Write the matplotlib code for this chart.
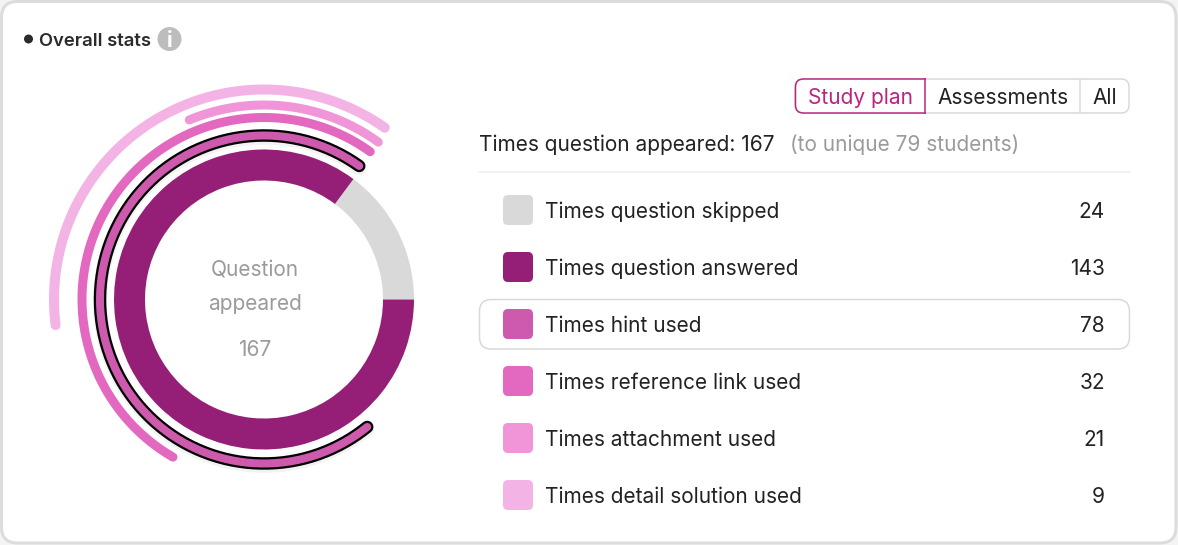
import matplotlib
matplotlib.use("Agg")
import matplotlib.pyplot as plt
import matplotlib.patheffects as pe
from matplotlib.patches import FancyBboxPatch, Circle, Rectangle
import numpy as np

W, H = 1178, 545

labels = ["Times question skipped", "Times question answered", "Times hint used",
          "Times reference link used", "Times attachment used", "Times detail solution used"]
values = [24, 143, 78, 32, 21, 9]
colors = ["#d9d9d9", "#951f76", "#cd5aad", "#e368c0", "#ef95d8", "#f3b4e5"]
row_y = [210, 267, 324, 381, 438, 495]

donut_sweep = [53.4, 306.6]

# arcs around the donut, degrees
arc_names = ["hint", "reference", "attachment", "detail"]
arc_start = [54.5, 54.3, 54, 54.9]
arc_end = [309, 240, 112.6, 187]
arc_radius = [164, 182, 194.5, 210]
arc_width = [8, 9, 9, 10]

FONT = "Inter"
plt.rcParams["font.family"] = FONT
TXT = 15

def yy(py):
    return H - py

def px(n):
    return n * 72 / 100

def rbox(ax, x0, y0, x1, y1, r, fc, ec, lw, z=1):
    p = FancyBboxPatch((x0 + r, yy(y1) + r), x1 - x0 - 2 * r, y1 - y0 - 2 * r,
                       boxstyle="round,pad=%f,rounding_size=%f" % (r, r),
                       fc=fc, ec=ec, lw=px(lw), zorder=z)
    ax.add_patch(p)
    return p

fig = plt.figure(figsize=(W / 100, H / 100), dpi=100, facecolor="#f4f4f4")
ax = fig.add_axes([0, 0, 1, 1])

# card
rbox(ax, 1.5, 1.5, 1176, 543, 16, "white", "#dcdcdc", 3, z=0)

# heading
ax.add_patch(Circle((28.5, yy(39)), 4.5, fc="#2b2b2b", ec="none"))
ax.text(39, yy(39), "Overall stats", fontsize=13.3, fontweight="semibold", color="#2b2b2b",
        va="center_baseline", ha="left")
ax.add_patch(Circle((169.5, yy(39)), 12, fc="#bdbdbd", ec="none"))
ax.text(169.5, yy(39), "i", fontsize=15, fontweight="bold", color="white", va="center_baseline", ha="center")

# donut
cx, cy = 264, yy(299.5)
ax.pie(donut_sweep, colors=colors[:2], startangle=0, counterclock=True, radius=150, center=(cx, cy),
       wedgeprops=dict(width=31, linewidth=0))

# arcs, outermost first
for name, a0, a1, r, w, c in reversed(list(zip(arc_names, arc_start, arc_end, arc_radius, arc_width, colors[2:]))):
    t = np.radians(np.linspace(a0, a1, 300))
    line, = ax.plot(cx + r * np.cos(t), cy + r * np.sin(t), color=c, lw=px(w), solid_capstyle="round", zorder=3)
    if name == "hint":
        line.set_path_effects([
            pe.Stroke(linewidth=px(w + 6.5), foreground="#0000000c", offset=(0, -1.5)),
            pe.Stroke(linewidth=px(w + 4.5), foreground="black"),
            pe.Normal()])

# centre text
ax.text(255, yy(269), "Question", fontsize=TXT, color="#9b9b9b", ha="center", va="center_baseline")
ax.text(255, yy(302), "appeared", fontsize=TXT, color="#9b9b9b", ha="center", va="center_baseline")
ax.text(255, yy(348), "167", fontsize=TXT, color="#9b9b9b", ha="center", va="center_baseline")

# toggle buttons
rbox(ax, 795, 79, 1129, 113, 8, "white", "#d9d9d9", 1.5, z=1)
ax.plot([1080, 1080], [yy(79), yy(113)], color="#d9d9d9", lw=px(1.5), zorder=2)
sel = rbox(ax, 795.5, 79, 945, 113, 8, "white", "#b8257f", 1.5, z=2)
sel.set_clip_path(Rectangle((790, yy(115)), 135.7, 40, transform=ax.transData))
ax.plot([925, 925], [yy(79), yy(113)], color="#b8257f", lw=px(1.5), zorder=3)
ax.text(860, yy(96), "Study plan", fontsize=TXT, color="#b8257f", ha="center", va="center_baseline", zorder=4)
ax.text(1003, yy(96), "Assessments", fontsize=TXT, color="#222222", ha="center", va="center_baseline")
ax.text(1104.5, yy(96), "All", fontsize=TXT, color="#222222", ha="center", va="center_baseline")

# summary line
ax.text(479, yy(143), "Times question appeared: 167", fontsize=TXT, color="#222222", ha="left", va="center_baseline")
ax.text(790, yy(143), "(to unique 79 students)", fontsize=TXT, color="#9b9b9b", ha="left", va="center_baseline")
ax.plot([479, 1130], [yy(171.5), yy(171.5)], color="#eeeeee", lw=px(1.5))

# highlighted row
rbox(ax, 479.5, 299.5, 1129.5, 349, 12, "white", "#d9d9d9", 1.5, z=1)

# legend rows
for lab, val, c, y in zip(labels, values, colors, row_y):
    rbox(ax, 503, y - 15, 533, y + 15, 5, c, "none", 0, z=2)
    ax.text(545, yy(y), lab, fontsize=TXT, color="#222222", ha="left", va="center_baseline", zorder=3)
    ax.text(1105, yy(y), str(val), fontsize=TXT, color="#222222", ha="right", va="center_baseline", zorder=3)

ax.set_xlim(0, W)
ax.set_ylim(0, H)
ax.set_aspect("auto")
ax.axis("off")
fig.savefig("out.png", dpi=100, facecolor=fig.get_facecolor())
